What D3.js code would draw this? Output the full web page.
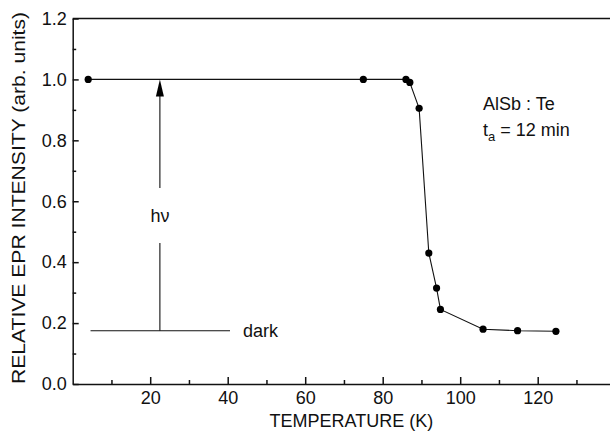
<!DOCTYPE html>
<html>
<head>
<meta charset="utf-8">
<script src="https://cdn.jsdelivr.net/npm/d3@7"></script>
<style>
  body { margin: 0; background: #fff; }
  svg { display: block; font-family: "Liberation Sans", Arial, Helvetica, sans-serif; }
  .axis path, .axis line { stroke: #111; stroke-width: 1.5px; }
  .axis text { font-size: 18px; fill: #111; font-family: "Liberation Sans", Arial, sans-serif; }
</style>
</head>
<body>
<div id="chart"></div>
<script>
// data
var temperature = [4, 75, 86, 87, 89.4, 91.9, 93.9, 94.9, 105.9, 114.8, 124.7];
var intensity   = [1.0, 1.0, 1.0, 0.99, 0.905, 0.43, 0.315, 0.245, 0.18, 0.175, 0.173];
var xTicks = [20, 40, 60, 80, 100, 120];
var xMinor = [10, 30, 50, 70, 90, 110, 130];
var yTicks = [0, 0.2, 0.4, 0.6, 0.8, 1.0, 1.2];
var yMinor = [0.1, 0.3, 0.5, 0.7, 0.9, 1.1];
var darkLevel = 0.175, darkFrom = 4.6, darkTo = 40.6;
var arrowAt = 22.5;

var W = 610, H = 436;
var svg = d3.select("#chart").append("svg")
    .attr("width", W).attr("height", H);

var x = d3.scaleLinear().domain([0, 140]).range([72.7, 72.7 + 140 * 3.875]);
var y = d3.scaleLinear().domain([0, 1.2]).range([384, 18.5]);

// frame top line
svg.append("line")
    .attr("x1", x(0)).attr("x2", W)
    .attr("y1", y(1.2)).attr("y2", y(1.2))
    .attr("stroke", "#111").attr("stroke-width", 1.5);

// x axis
svg.append("g").attr("class", "axis")
    .attr("transform", "translate(0," + y(0) + ")")
    .call(d3.axisBottom(x).tickValues(xTicks).tickSize(-7).tickPadding(7).tickSizeOuter(0));
svg.append("g").attr("class", "axis")
    .attr("transform", "translate(0," + y(0) + ")")
    .call(d3.axisBottom(x).tickValues(xMinor).tickSize(-4).tickFormat("").tickSizeOuter(0))
    .select(".domain").remove();

// y axis
svg.append("g").attr("class", "axis")
    .attr("transform", "translate(" + x(0) + ",0)")
    .call(d3.axisLeft(y).tickValues(yTicks).tickFormat(d3.format(".1f")).tickSize(-6).tickPadding(6).tickSizeOuter(0));
svg.append("g").attr("class", "axis")
    .attr("transform", "translate(" + x(0) + ",0)")
    .call(d3.axisLeft(y).tickValues(yMinor).tickSize(-3.5).tickFormat("").tickSizeOuter(0))
    .select(".domain").remove();

// axis titles
svg.append("text")
    .attr("x", (x(0) + W) / 2 + 10).attr("y", 427)
    .attr("text-anchor", "middle")
    .attr("font-size", "18px").attr("fill", "#111")
    .text("TEMPERATURE (K)");

svg.append("text")
    .attr("transform", "translate(25," + 198 + ") rotate(-90)")
    .attr("text-anchor", "middle")
    .attr("font-size", "19px").attr("fill", "#111")
    .attr("textLength", 372).attr("lengthAdjust", "spacingAndGlyphs")
    .text("RELATIVE EPR INTENSITY (arb. units)");

// data line + points
var pts = temperature.map(function(t, i) { return [t, intensity[i]]; });
svg.append("path")
    .datum(pts)
    .attr("fill", "none").attr("stroke", "#111").attr("stroke-width", 1.1)
    .attr("d", d3.line().x(function(d) { return x(d[0]); }).y(function(d) { return y(d[1]); }));

svg.append("g").selectAll("circle")
    .data(pts).enter().append("circle")
    .attr("cx", function(d) { return x(d[0]); })
    .attr("cy", function(d) { return y(d[1]); })
    .attr("r", 3.6).attr("fill", "#000");

// dark level line
svg.append("line")
    .attr("x1", x(darkFrom)).attr("x2", x(darkTo))
    .attr("y1", y(darkLevel)).attr("y2", y(darkLevel))
    .attr("stroke", "#111").attr("stroke-width", 1.1);
svg.append("text")
    .attr("x", x(darkTo) + 13).attr("y", y(darkLevel) + 6)
    .attr("font-size", "18px").attr("fill", "#111")
    .text("dark");

// h-nu arrow with gap for label
var ax = x(arrowAt);
svg.append("line")
    .attr("x1", ax).attr("x2", ax)
    .attr("y1", y(darkLevel)).attr("y2", 243)
    .attr("stroke", "#111").attr("stroke-width", 1.1);
svg.append("line")
    .attr("x1", ax).attr("x2", ax)
    .attr("y1", 188).attr("y2", y(1.0) + 14)
    .attr("stroke", "#111").attr("stroke-width", 1.1);
svg.append("path")
    .attr("d", "M" + ax + "," + y(1.0) + " L" + (ax - 4) + "," + (y(1.0) + 17) + " L" + (ax + 4) + "," + (y(1.0) + 17) + " Z")
    .attr("fill", "#000");
svg.append("text")
    .attr("x", ax).attr("y", 222)
    .attr("text-anchor", "middle")
    .attr("font-size", "18px").attr("fill", "#111")
    .text("h\u03BD");

// sample label
svg.append("text")
    .attr("x", 483).attr("y", 110)
    .attr("font-size", "18px").attr("fill", "#111")
    .text("AlSb : Te");
var t2 = svg.append("text")
    .attr("x", 483).attr("y", 136)
    .attr("font-size", "18px").attr("fill", "#111");
t2.append("tspan").text("t");
t2.append("tspan").attr("font-size", "13px").attr("dy", 5).text("a");
t2.append("tspan").attr("dy", -5).text(" = 12 min");
</script>
</body>
</html>
